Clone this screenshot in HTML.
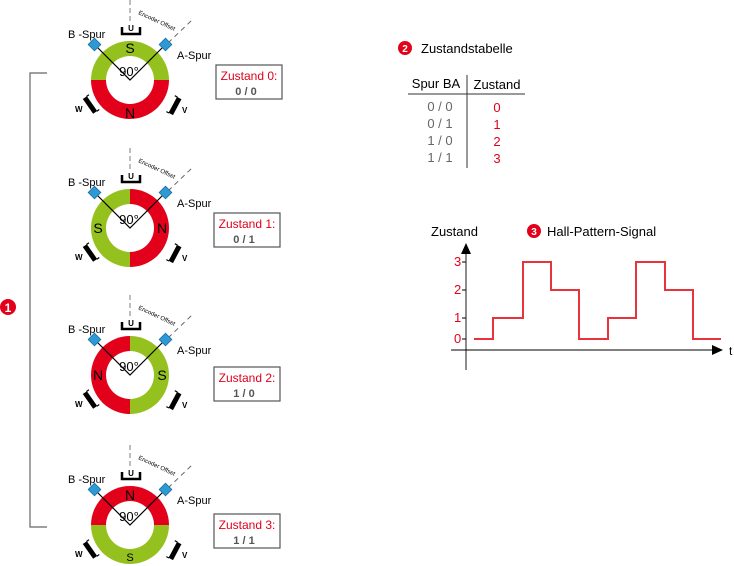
<!DOCTYPE html>
<html><head><meta charset="utf-8"><style>
body{margin:0;background:#fff}
svg{display:block;font-family:"Liberation Sans",sans-serif}
.r{fill:#e2001a}.g{fill:#95c11f}
</style></head><body>
<svg width="734" height="566" viewBox="0 0 734 566">
<defs>
<g id="hw">
 <line x1="0" y1="-80" x2="0" y2="-56" stroke="#999" stroke-width="1.3" stroke-dasharray="5,3"/>
 <path d="M-8,-53 V-46 H10 V-53" fill="none" stroke="#000" stroke-width="2.5"/>
 <line x1="38" y1="-37" x2="62" y2="-60" stroke="#666" stroke-width="1" stroke-dasharray="5,4"/>
 <circle r="24" fill="#fff"/>
 <polyline points="-35,-35 0,0 35,-35" fill="none" stroke="#000" stroke-width="1.2"/>
 <rect x="-40" y="-40" width="9" height="9" fill="#2d9ad6" stroke="#1b6fa0" stroke-width=".8" transform="rotate(45 -35.5 -35.5)"/>
 <rect x="31" y="-40" width="9" height="9" fill="#2d9ad6" stroke="#1b6fa0" stroke-width=".8" transform="rotate(45 35.5 -35.5)"/>
 <g transform="translate(-40,25) rotate(55)"><rect x="-9" y="-2.5" width="18" height="5" fill="#000"/><path d="M-9,-2 V-5 M9,-2 V-5" stroke="#000" stroke-width="1.2"/></g>
 <g transform="translate(45,26) rotate(-62)"><rect x="-9" y="-2.5" width="18" height="5" fill="#000"/><path d="M-9,-2 V-5 M9,-2 V-5" stroke="#000" stroke-width="1.2"/></g>
</g>
</defs>

<path d="M47,73 H30 V527 H47" fill="none" stroke="#666" stroke-width="1.2"/>
<circle cx="8" cy="307" r="8" fill="#e2001a"/><text x="8" y="312" font-size="12" font-weight="bold" fill="#fff" text-anchor="middle">1</text>

<g transform="translate(130,80)">
 <path d="M-39,0 A39,39 0 0 1 39,0 H-39Z" class="g"/><path d="M-39,0 A39,39 0 0 0 39,0 H-39Z" class="r"/>
 <use href="#hw"/>
</g>
<g transform="translate(130,228)">
 <path d="M0,-39 A39,39 0 0 0 0,39Z" class="g"/><path d="M0,-39 A39,39 0 0 1 0,39Z" class="r"/>
 <use href="#hw"/>
</g>
<g transform="translate(130,375)">
 <path d="M0,-39 A39,39 0 0 0 0,39Z" class="r"/><path d="M0,-39 A39,39 0 0 1 0,39Z" class="g"/>
 <use href="#hw"/>
</g>
<g transform="translate(130,525)">
 <path d="M-39,0 A39,39 0 0 1 39,0 H-39Z" class="r"/><path d="M-39,0 A39,39 0 0 0 39,0 H-39Z" class="g"/>
 <use href="#hw"/>
</g>

<g font-size="11" fill="#000">
<g transform="translate(130,80)">
 <text x="1" y="-49" font-size="8" text-anchor="middle" font-weight="bold">U</text>
 <text x="8" y="-66" font-size="6" transform="rotate(25 8 -66)">Encoder Offset</text>
 <text x="-62" y="-42">B -Spur</text><text x="47" y="-21">A-Spur</text>
 <text x="-1" y="-4" font-size="13" text-anchor="middle">90°</text>
 <text x="0" y="-27" font-size="14" text-anchor="middle">S</text><text x="0" y="38" font-size="14" text-anchor="middle">N</text>
 <text x="-55" y="32" font-size="8" font-weight="bold">W</text><text x="52" y="33" font-size="8" font-weight="bold">V</text>
</g>
<g transform="translate(130,228)">
 <text x="1" y="-49" font-size="8" text-anchor="middle" font-weight="bold">U</text>
 <text x="8" y="-66" font-size="6" transform="rotate(25 8 -66)">Encoder Offset</text>
 <text x="-62" y="-42">B -Spur</text><text x="47" y="-21">A-Spur</text>
 <text x="-1" y="-4" font-size="13" text-anchor="middle">90°</text>
 <text x="-32" y="5" font-size="14" text-anchor="middle">S</text><text x="32" y="5" font-size="14" text-anchor="middle">N</text>
 <text x="-55" y="32" font-size="8" font-weight="bold">W</text><text x="52" y="33" font-size="8" font-weight="bold">V</text>
</g>
<g transform="translate(130,375)">
 <text x="1" y="-49" font-size="8" text-anchor="middle" font-weight="bold">U</text>
 <text x="8" y="-66" font-size="6" transform="rotate(25 8 -66)">Encoder Offset</text>
 <text x="-62" y="-42">B -Spur</text><text x="47" y="-21">A-Spur</text>
 <text x="-1" y="-4" font-size="13" text-anchor="middle">90°</text>
 <text x="-32" y="5" font-size="14" text-anchor="middle">N</text><text x="32" y="5" font-size="14" text-anchor="middle">S</text>
 <text x="-55" y="32" font-size="8" font-weight="bold">W</text><text x="52" y="33" font-size="8" font-weight="bold">V</text>
</g>
<g transform="translate(130,525)">
 <text x="1" y="-49" font-size="8" text-anchor="middle" font-weight="bold">U</text>
 <text x="8" y="-66" font-size="6" transform="rotate(25 8 -66)">Encoder Offset</text>
 <text x="-62" y="-42">B -Spur</text><text x="47" y="-21">A-Spur</text>
 <text x="-1" y="-4" font-size="13" text-anchor="middle">90°</text>
 <text x="0" y="-25" font-size="14" text-anchor="middle">N</text><text x="0" y="36" font-size="11" text-anchor="middle">S</text>
 <text x="-55" y="32" font-size="8" font-weight="bold">W</text><text x="52" y="33" font-size="8" font-weight="bold">V</text>
</g>
</g>

<g font-size="12" text-anchor="middle">
<rect x="216" y="65" width="66" height="34" fill="#fff" stroke="#555" stroke-width="1.2"/>
<text x="249" y="80" fill="#e2001a">Zustand 0:</text><text x="246" y="95" fill="#555" font-weight="bold" font-size="11">0 / 0</text>
<rect x="214" y="213" width="66" height="34" fill="#fff" stroke="#555" stroke-width="1.2"/>
<text x="247" y="228" fill="#e2001a">Zustand 1:</text><text x="244" y="243" fill="#555" font-weight="bold" font-size="11">0 / 1</text>
<rect x="214" y="367" width="66" height="34" fill="#fff" stroke="#555" stroke-width="1.2"/>
<text x="247" y="382" fill="#e2001a">Zustand 2:</text><text x="244" y="397" fill="#555" font-weight="bold" font-size="11">1 / 0</text>
<rect x="214" y="514" width="66" height="34" fill="#fff" stroke="#555" stroke-width="1.2"/>
<text x="247" y="529" fill="#e2001a">Zustand 3:</text><text x="244" y="544" fill="#555" font-weight="bold" font-size="11">1 / 1</text>
</g>

<circle cx="405" cy="48" r="7" fill="#e2001a"/><text x="405" y="52" font-size="10" font-weight="bold" fill="#fff" text-anchor="middle">2</text>
<text x="421" y="53" font-size="13">Zustandstabelle</text>
<text x="436" y="88" font-size="13" text-anchor="middle">Spur BA</text>
<text x="497" y="89" font-size="13" text-anchor="middle">Zustand</text>
<line x1="408" y1="94" x2="525" y2="94" stroke="#333"/>
<line x1="467" y1="75" x2="467" y2="168" stroke="#333"/>
<g font-size="13" text-anchor="middle">
<text x="440" y="111" fill="#666">0 / 0</text><text x="497" y="112" fill="#e2001a">0</text>
<text x="440" y="128" fill="#666">0 / 1</text><text x="497" y="129" fill="#e2001a">1</text>
<text x="440" y="145" fill="#666">1 / 0</text><text x="497" y="146" fill="#e2001a">2</text>
<text x="440" y="162" fill="#666">1 / 1</text><text x="497" y="163" fill="#e2001a">3</text>
</g>

<text x="431" y="236" font-size="13">Zustand</text>
<circle cx="534" cy="231" r="7" fill="#e2001a"/><text x="534" y="235" font-size="10" font-weight="bold" fill="#fff" text-anchor="middle">3</text>
<text x="547" y="236" font-size="13">Hall-Pattern-Signal</text>
<line x1="466" y1="250" x2="466" y2="370" stroke="#666" stroke-width="1.5"/>
<path d="M461,254 L466,243 L471,254Z" fill="#000"/>
<line x1="451" y1="350" x2="716" y2="350" stroke="#000" stroke-width="1"/>
<path d="M712,345 L723,350 L712,355Z" fill="#000"/>
<text x="729" y="355" font-size="12">t</text>
<g stroke="#000"><line x1="462" y1="262" x2="466" y2="262"/><line x1="462" y1="290" x2="466" y2="290"/><line x1="462" y1="318" x2="466" y2="318"/><line x1="462" y1="339" x2="466" y2="339"/></g>
<g font-size="13" fill="#e2001a"><text x="454" y="266">3</text><text x="454" y="294">2</text><text x="454" y="322">1</text><text x="454" y="343">0</text></g>
<polyline points="474,339 493,339 493,318 523,318 523,262 551,262 551,290 579,290 579,339 608,339 608,318 636,318 636,262 665,262 665,290 693,290 693,339 721,339" fill="none" stroke="#e8333c" stroke-width="2"/>
</svg>
</body></html>
